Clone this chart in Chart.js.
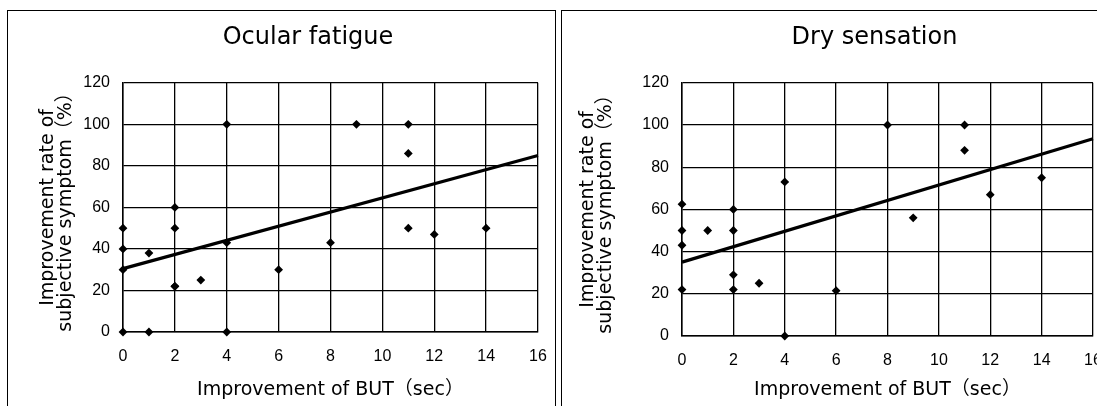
<!DOCTYPE html>
<html>
<head>
<meta charset="utf-8">
<script src="https://cdn.jsdelivr.net/npm/chart.js@4"></script>
<style>
  html, body { margin: 0; padding: 0; background: #fff; overflow: hidden; }
  body { width: 1097px; height: 406px; position: relative; }
  .panel { position: absolute; border: 1.5px solid #000; box-sizing: border-box; }
  .wrap { position: absolute; top: 0; height: 406px; }
</style>
</head>
<body>
<div class="panel" style="left:7px; top:10px; width:549px; height:420px;"></div>
<div class="panel" style="left:561px; top:10px; width:560px; height:420px;"></div>
<div class="wrap" style="left:0; width:563px;"><canvas id="grafFatiga"></canvas></div>
<div class="wrap" style="left:558px; width:560px;"><canvas id="grafSequedad"></canvas></div>
<script>
// Ocular fatigue
const fatigaX = [0, 0, 0, 0, 1, 1, 2, 2, 2, 2, 3, 4, 4, 4, 6, 8, 9, 11, 11, 11, 12, 14];
const fatigaY = [50, 40, 30, 0, 38, 0, 60, 50, 22, 22, 25, 100, 43, 0, 30, 43, 100, 100, 86, 50, 47, 50];
const fatigaLineaX = [0, 16];
const fatigaLineaY = [30.5, 85];

// Dry sensation
const sequedadX = [0, 0, 0, 0, 1, 2, 2, 2, 2, 3, 4, 4, 6, 8, 9, 11, 11, 12, 14];
const sequedadY = [62.5, 50, 43, 22, 50, 60, 50, 29, 22, 25, 73, 0, 21.5, 100, 56, 100, 88, 67, 75];
const sequedadLineaX = [0, 16];
const sequedadLineaY = [35, 93.5];

const ticksX = [0, 2, 4, 6, 8, 10, 12, 14, 16];
const ticksY = [0, 20, 40, 60, 80, 100, 120];

const fuenteTexto = "'DejaVu Sans', 'Noto Sans CJK JP', sans-serif";
const fuenteNumeros = "'Liberation Sans', Arial, sans-serif";
Chart.defaults.color = '#000';

function puntos(xs, ys) {
    return xs.map((x, i) => ({ x: x, y: ys[i] }));
}

function crearGrafico(id, titulo, xs, ys, lx, ly, cfg) {
    const canvas = document.getElementById(id);
    canvas.width = cfg.ancho;
    canvas.height = 406;
    canvas.style.width = cfg.ancho + 'px';
    canvas.style.height = '406px';
    const ctx = canvas.getContext('2d');

    // el título no va centrado en el canvas sino un poco a la derecha
    const moverTitulo = {
        id: 'moverTitulo',
        afterLayout(chart) {
            if (chart.titleBlock) {
                chart.titleBlock.left += cfg.dxTitulo;
                chart.titleBlock.right += cfg.dxTitulo;
            }
        }
    };

    return new Chart(ctx, {
        type: 'scatter',
        data: {
            datasets: [
                {
                    label: titulo,
                    data: puntos(xs, ys),
                    pointStyle: 'rectRot',
                    pointRadius: 4.4,
                    backgroundColor: '#000',
                    borderColor: '#000',
                    borderWidth: 0,
                    clip: false
                },
                {
                    type: 'line',
                    label: 'tendencia',
                    data: puntos(lx, ly),
                    borderColor: '#000',
                    borderWidth: 3.2,
                    pointRadius: 0,
                    fill: false,
                    clip: false
                }
            ]
        },
        plugins: [moverTitulo],
        options: {
            responsive: false,
            animation: false,
            layout: { padding: { top: 0, left: 0, right: cfg.der, bottom: 0 } },
            plugins: {
                legend: { display: false },
                tooltip: { enabled: false },
                title: {
                    display: true,
                    text: titulo,
                    color: '#000',
                    font: { family: fuenteTexto, size: 24, weight: 'normal' },
                    padding: { top: 23, bottom: 31 }
                }
            },
            scales: {
                x: {
                    type: 'linear',
                    min: 0,
                    max: 16,
                    afterBuildTicks: (s) => { s.ticks = ticksX.map(v => ({ value: v })); },
                    afterFit: (s) => { s.height = 406 - cfg.abajo; },
                    grid: { color: '#000', lineWidth: 1.3, drawTicks: false },
                    border: { color: '#000', width: 1.5 },
                    ticks: { padding: 15, font: { family: fuenteNumeros, size: 16 }, color: '#000', maxRotation: 0 },
                    title: {
                        display: true,
                        text: 'Improvement of BUT（sec）',
                        color: '#000',
                        font: { family: fuenteTexto, size: 19 },
                        padding: { top: 0, bottom: 5 }
                    }
                },
                y: {
                    type: 'linear',
                    min: 0,
                    max: 120,
                    afterBuildTicks: (s) => { s.ticks = ticksY.map(v => ({ value: v })); },
                    afterFit: (s) => { s.width = cfg.ejeY; },
                    grid: { color: '#000', lineWidth: 1.3, drawTicks: false },
                    border: { color: '#000', width: 1.5 },
                    ticks: { padding: 13, font: { family: fuenteNumeros, size: 16 }, color: '#000' },
                    title: {
                        display: true,
                        text: ['Improvement rate of', 'subjective symptom（%）'],
                        color: '#000',
                        font: { family: fuenteTexto, size: 19, lineHeight: 0.95 },
                        padding: { top: cfg.tituloY, bottom: 0 }
                    }
                }
            }
        }
    });
}

crearGrafico('grafFatiga', 'Ocular fatigue', fatigaX, fatigaY, fatigaLineaX, fatigaLineaY,
    { ancho: 563, ejeY: 123, der: 25, abajo: 332, tituloY: 39, dxTitulo: 39 });
crearGrafico('grafSequedad', 'Dry sensation', sequedadX, sequedadY, sequedadLineaX, sequedadLineaY,
    { ancho: 560, ejeY: 124, der: 25, abajo: 336, tituloY: 21, dxTitulo: 49 });
</script>
</body>
</html>
